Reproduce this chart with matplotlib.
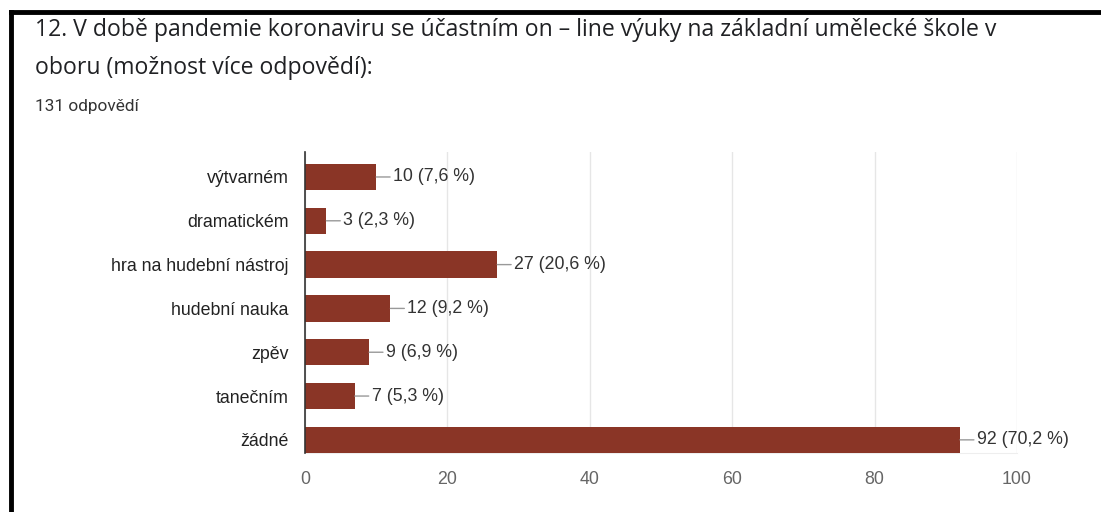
import matplotlib.pyplot as plt
from matplotlib.lines import Line2D

# Survey data
categories = ['výtvarném', 'dramatickém', 'hra na hudební nástroj', 'hudební nauka',
              'zpěv', 'tanečním', 'žádné']
counts = [10, 3, 27, 12, 9, 7, 92]
percents = ['7,6', '2,3', '20,6', '9,2', '6,9', '5,3', '70,2']
xticks = [0, 20, 40, 60, 80, 100]

title_line1 = '12. V době pandemie koronaviru se účastním on – line výuky na základní umělecké škole v'
title_line2 = 'oboru (možnost více odpovědí):'
subtitle = '131 odpovědí'

BAR_COLOR = '#8a3526'
TEXT_COLOR = '#333333'
FS = 12.8

fig = plt.figure(figsize=[11.01, 5.12], dpi=100)
ax = fig.add_axes([305 / 1101, 1 - 453 / 512, (1017 - 305) / 1101, (453 - 152) / 512])

ypos = list(range(len(categories)))
ax.barh(ypos, counts, height=0.6, color=BAR_COLOR, zorder=3)

for y, c, p in zip(ypos, counts, percents):
    ax.annotate(f'{c} ({p} %)', xy=(c, y), xytext=(12, 0), textcoords='offset points',
                ha='left', va='center', fontsize=FS, color=TEXT_COLOR,
                family='Liberation Sans',
                arrowprops=dict(arrowstyle='-', color='#999999', lw=1.0,
                                shrinkA=0, shrinkB=0))

ax.set_yticks(ypos)
ax.set_yticklabels(categories, fontsize=FS, color='#222222', family='Liberation Sans')
ax.set_xticks(xticks)
ax.set_xticklabels([str(t) for t in xticks], fontsize=FS, color='#666666',
                   family='Liberation Sans')
ax.set_xlim(0, 100)
ax.set_ylim(6.3, -0.57)
ax.tick_params(axis='y', length=0, pad=12)
ax.tick_params(axis='x', length=0, pad=13)
ax.grid(True, axis='x', color='#e6e6e6', linewidth=1.0, zorder=0)
ax.set_axisbelow(True)
for side in ['top', 'right']:
    ax.spines[side].set_visible(False)
ax.spines['bottom'].set_color('#eeeeee')
ax.spines['left'].set_color('#333333')
ax.spines['left'].set_linewidth(1.2)
ax.spines['left'].set_zorder(4)

# Titles
fig.text(35 / 1101, 1 - 30 / 512, title_line1, fontsize=16.6, color='#202124',
         family='Open Sans', va='center', ha='left')
fig.text(35 / 1101, 1 - 68 / 512, title_line2, fontsize=16.6, color='#202124',
         family='Open Sans', va='center', ha='left')
fig.text(35 / 1101, 1 - 107 / 512, subtitle, fontsize=12.4, color='#333333',
         family='Roboto', va='center', ha='left')

# Black frame (screenshot border)
fig.add_artist(Line2D([10.5 / 1101, 1], [1 - 12 / 512, 1 - 12 / 512], color='black',
                      linewidth=3.5, transform=fig.transFigure))
fig.add_artist(Line2D([10.5 / 1101, 10.5 / 1101], [0, 1 - 12 / 512], color='black',
                      linewidth=3.5, transform=fig.transFigure))

plt.savefig('out.png', dpi=100)
plt.close(fig)
